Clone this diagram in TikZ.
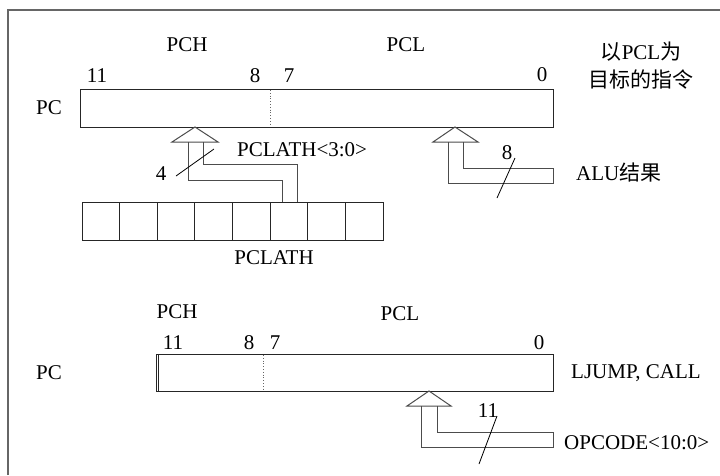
\documentclass[tikz,border=0pt]{standalone}
\usepackage{fontspec}
\setmainfont{Liberation Serif}
\newfontfamily\cjk{Noto Sans CJK SC}
\begin{document}
\begin{tikzpicture}[x=1pt,y=-1pt,
  lbl/.style={inner sep=0pt,font=\fontsize{21}{25}\selectfont},
  reg/.style={draw=black!85,line width=1pt},
  bus/.style={draw=black!70,line width=1pt},
  tick/.style={draw=black,line width=0.8pt},
  sep/.style={draw=black!60,dotted,line width=0.8pt}]
\useasboundingbox (0,0) rectangle (720,475);
% frame
\draw[black!60,line width=1.3pt] (8,475) -- (8,10) -- (720,10);

% ---------- top ----------
\node[lbl] (pch1) at (187,45) {PCH};
\node[lbl] (pcl1) at (406,45) {PCL};
\node[lbl] (b11a) at (97,76) {11};
\node[lbl] (b8a) at (255,76) {8};
\node[lbl] (b7a) at (289,76) {7};
\node[lbl] (b0a) at (542,75) {0};
\node[lbl] (pc1) at (49,108) {PC};
\node[lbl] (note1) at (641,52) {{\cjk 以}PCL{\cjk 为}};
\node[lbl] (note2) at (641,80) {\cjk 目标的指令};
\draw[reg] (80,89) rectangle (553,127);
\draw[sep] (270,90) -- (270,126);

% PCLATH bus
\draw[bus] (172,142) -- (195,127) -- (218,142) -- cycle;
\draw[bus] (188,142) -- (188,180) -- (282,180) -- (282,202);
\draw[bus] (203,142) -- (203,164) -- (297,164) -- (297,202);
\draw[tick] (176,176) -- (214,149);
\node[lbl] (w4) at (161,174) {4};
\node[lbl,anchor=west] (pclathsub) at (237,150) {PCLATH<3:0>};

% PCLATH register
\foreach \i in {0,...,7} {
  \draw[reg] ({82+\i*37.625},202) rectangle ({82+(\i+1)*37.625},240);
}
\node[lbl] (pclath) at (274,258) {PCLATH};

% ALU bus
\draw[bus] (433,142) -- (455,127) -- (478,142) -- cycle;
\draw[bus] (448,142) -- (448,183) -- (553,183) -- (553,168) -- (463,168) -- (463,142);
\draw[tick] (497,198) -- (515,158);
\node[lbl] (w8) at (507,153) {8};
\node[lbl,anchor=west] (alu) at (576,173) {ALU{\cjk 结果}};

% ---------- bottom ----------
\node[lbl] (pch2) at (177,312) {PCH};
\node[lbl] (pcl2) at (400,314) {PCL};
\node[lbl] (b11b) at (173,343) {11};
\node[lbl] (b8b) at (249,343) {8};
\node[lbl] (b7b) at (275,343) {7};
\node[lbl] (b0b) at (539,343) {0};
\node[lbl] (pc2) at (49,373) {PC};
\draw[reg] (156,354) rectangle (553,391);
\draw[reg] (158.5,354) -- (158.5,391);
\draw[sep] (263,355) -- (263,390);
\node[lbl,anchor=west] (ljump) at (571,373) {LJUMP, CALL};

% OPCODE bus
\draw[bus] (407,406) -- (429,391) -- (451,406) -- cycle;
\draw[bus] (421,406) -- (421,447) -- (553,447) -- (553,432) -- (437,432) -- (437,406);
\draw[tick] (479,464) -- (497,416);
\node[lbl] (w11) at (488,411) {11};
\node[lbl,anchor=west] (opcode) at (564,443) {OPCODE<10:0>};
\end{tikzpicture}
\end{document}
